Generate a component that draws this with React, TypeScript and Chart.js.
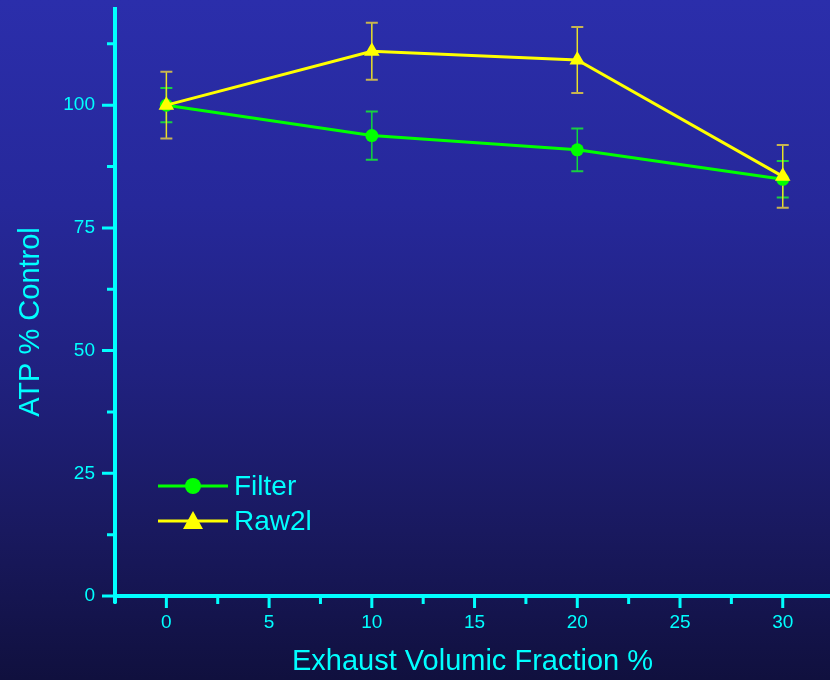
import React, { useEffect, useRef } from "react";
import { Chart, registerables } from "chart.js";

Chart.register(...registerables);

// ---- data ----
const fractions = [0, 10, 20, 30];
const filterValues = [100, 93.8, 90.9, 84.9];
const filterErrors = [3.5, 4.9, 4.35, 3.7];
const rawValues = [100, 111.0, 109.2, 85.5];
const rawErrors = [6.8, 5.8, 6.7, 6.4];
const seriesNames = ["Filter", "Raw2l"];

const xTickValues = [0, 5, 10, 15, 20, 25, 30];
const xMinorTicks = [-2.5, 2.5, 7.5, 12.5, 17.5, 22.5, 27.5];
const yTickValues = [0, 25, 50, 75, 100];
const yMinorTicks = [12.5, 37.5, 62.5, 87.5, 112.5];

const xTitle = "Exhaust Volumic Fraction %";
const yTitle = "ATP % Control";

const CYAN = "#00ffff";
const GREEN = "#00ff00";
const YELLOW = "#ffff00";
const FONT = "'Liberation Sans', Arial, sans-serif";

const errorBarsPlugin = {
  id: "errorBars",
  beforeDatasetsDraw(chart: any) {
    const { ctx, scales } = chart;
    const xs = scales.x;
    const ys = scales.y;
    const sets = [
      { vals: filterValues, errs: filterErrors, color: "#10d83a", cap: "#18d040" },
      { vals: rawValues, errs: rawErrors, color: "#e8e028", cap: "#c8b450" },
    ];
    ctx.save();
    sets.forEach((s) => {
      fractions.forEach((f, i) => {
        const px = xs.getPixelForValue(f);
        const top = ys.getPixelForValue(s.vals[i] + s.errs[i]);
        const bot = ys.getPixelForValue(s.vals[i] - s.errs[i]);
        ctx.strokeStyle = s.color;
        ctx.lineWidth = 1.5;
        ctx.beginPath();
        ctx.moveTo(px, top);
        ctx.lineTo(px, bot);
        ctx.stroke();
        ctx.strokeStyle = s.cap;
        ctx.lineWidth = 2;
        ctx.beginPath();
        ctx.moveTo(px - 6, top);
        ctx.lineTo(px + 6, top);
        ctx.moveTo(px - 6, bot);
        ctx.lineTo(px + 6, bot);
        ctx.stroke();
      });
    });
    ctx.restore();
  },
};

const axesPlugin = {
  id: "axesDraw",
  afterDraw(chart: any) {
    const { ctx, scales, chartArea } = chart;
    const xs = scales.x;
    const ys = scales.y;
    const ax = chartArea.left;
    const ay = chartArea.bottom;
    ctx.save();
    ctx.strokeStyle = CYAN;
    ctx.lineCap = "butt";
    // axis lines
    ctx.lineWidth = 4;
    ctx.beginPath();
    ctx.moveTo(ax, chartArea.top);
    ctx.lineTo(ax, ay + 7);
    ctx.moveTo(ax - 2, ay);
    ctx.lineTo(chartArea.right, ay);
    ctx.stroke();
    // x ticks
    ctx.lineWidth = 3;
    ctx.beginPath();
    xTickValues.forEach((v) => {
      const p = xs.getPixelForValue(v);
      ctx.moveTo(p, ay);
      ctx.lineTo(p, ay + 12);
    });
    xMinorTicks.forEach((v) => {
      const p = xs.getPixelForValue(v);
      ctx.moveTo(p, ay);
      ctx.lineTo(p, ay + 8);
    });
    // y ticks
    yTickValues.forEach((v) => {
      const p = ys.getPixelForValue(v);
      ctx.moveTo(ax, p);
      ctx.lineTo(ax - 13, p);
    });
    yMinorTicks.forEach((v) => {
      const p = ys.getPixelForValue(v);
      ctx.moveTo(ax, p);
      ctx.lineTo(ax - 8, p);
    });
    ctx.stroke();

    // y axis title
    ctx.save();
    ctx.translate(31, 322);
    ctx.rotate(-Math.PI / 2);
    ctx.fillStyle = CYAN;
    ctx.font = `29px ${FONT}`;
    ctx.textAlign = "center";
    ctx.textBaseline = "middle";
    ctx.fillText(yTitle, 0, 0);
    ctx.restore();

    // legend
    const items = [
      { name: seriesNames[0], color: GREEN, style: "circle", y: 486 },
      { name: seriesNames[1], color: YELLOW, style: "triangle", y: 521 },
    ];
    items.forEach((it) => {
      ctx.strokeStyle = it.color;
      ctx.fillStyle = it.color;
      ctx.lineWidth = 3;
      ctx.beginPath();
      ctx.moveTo(158, it.y);
      ctx.lineTo(228, it.y);
      ctx.stroke();
      ctx.beginPath();
      if (it.style === "circle") {
        ctx.arc(193, it.y, 8, 0, Math.PI * 2);
      } else {
        ctx.moveTo(193, it.y - 10);
        ctx.lineTo(203, it.y + 8);
        ctx.lineTo(183, it.y + 8);
        ctx.closePath();
      }
      ctx.fill();
      ctx.fillStyle = CYAN;
      ctx.font = `28px ${FONT}`;
      ctx.textAlign = "left";
      ctx.textBaseline = "middle";
      ctx.fillText(it.name, 234, it.y + 1);
    });
    ctx.restore();
  },
};

export default function App() {
  const canvasRef = useRef<HTMLCanvasElement | null>(null);

  useEffect(() => {
    if (!canvasRef.current) return;
    const chart = new Chart(canvasRef.current, {
      type: "line",
      data: {
        datasets: [
          {
            label: seriesNames[0],
            order: 1,
            data: fractions.map((f, i) => ({ x: f, y: filterValues[i] })),
            borderColor: GREEN,
            backgroundColor: GREEN,
            borderWidth: 3,
            pointStyle: "circle",
            pointRadius: 6.5,
            pointBorderWidth: 0,
            pointBackgroundColor: GREEN,
          },
          {
            label: seriesNames[1],
            order: 0,
            data: fractions.map((f, i) => ({ x: f, y: rawValues[i] })),
            borderColor: YELLOW,
            backgroundColor: YELLOW,
            borderWidth: 3,
            pointStyle: "triangle",
            pointRadius: 9,
            pointBorderWidth: 0,
            pointBackgroundColor: YELLOW,
          },
        ],
      },
      options: {
        responsive: false,
        animation: false,
        layout: { autoPadding: false, padding: { top: 7, right: 0, left: 0, bottom: 0 } },
        plugins: { legend: { display: false }, tooltip: { enabled: false } },
        scales: {
          x: {
            type: "linear",
            min: -2.5,
            max: 32.3,
            afterBuildTicks: (scale: any) => {
              scale.ticks = xTickValues.map((v) => ({ value: v }));
            },
            afterFit: (scale: any) => {
              scale.height = 84;
              scale.paddingLeft = 0;
              scale.paddingRight = 0;
              scale.paddingTop = 0;
              scale.paddingBottom = 0;
            },
            grid: { display: false, drawTicks: false },
            border: { display: false },
            ticks: {
              color: CYAN,
              font: { family: FONT, size: 19 },
              padding: 15,
              maxRotation: 0,
              autoSkip: false,
            },
            title: {
              display: true,
              text: xTitle,
              color: CYAN,
              font: { family: FONT, size: 29 },
              padding: { top: 0, bottom: 1 },
            },
          },
          y: {
            type: "linear",
            min: 0,
            max: 120,
            afterBuildTicks: (scale: any) => {
              scale.ticks = yTickValues.map((v) => ({ value: v }));
            },
            afterFit: (scale: any) => {
              scale.width = 115;
              scale.paddingLeft = 0;
              scale.paddingRight = 0;
              scale.paddingTop = 0;
              scale.paddingBottom = 0;
            },
            grid: { display: false, drawTicks: false },
            border: { display: false },
            ticks: {
              color: CYAN,
              font: { family: FONT, size: 19 },
              padding: 20,
              autoSkip: false,
            },
            title: { display: false },
          },
        },
      },
      plugins: [errorBarsPlugin, axesPlugin],
    });
    return () => chart.destroy();
  }, []);

  return (
    <div
      style={{
        position: "fixed",
        left: 0,
        top: 0,
        width: 830,
        height: 680,
        background:
          "linear-gradient(180deg, #2b2eab 0%, #26289a 30%, #20217f 55%, #19195f 78%, #10103e 100%)",
      }}
    >
      <canvas ref={canvasRef} width={830} height={680} style={{ display: "block" }} />
    </div>
  );
}
